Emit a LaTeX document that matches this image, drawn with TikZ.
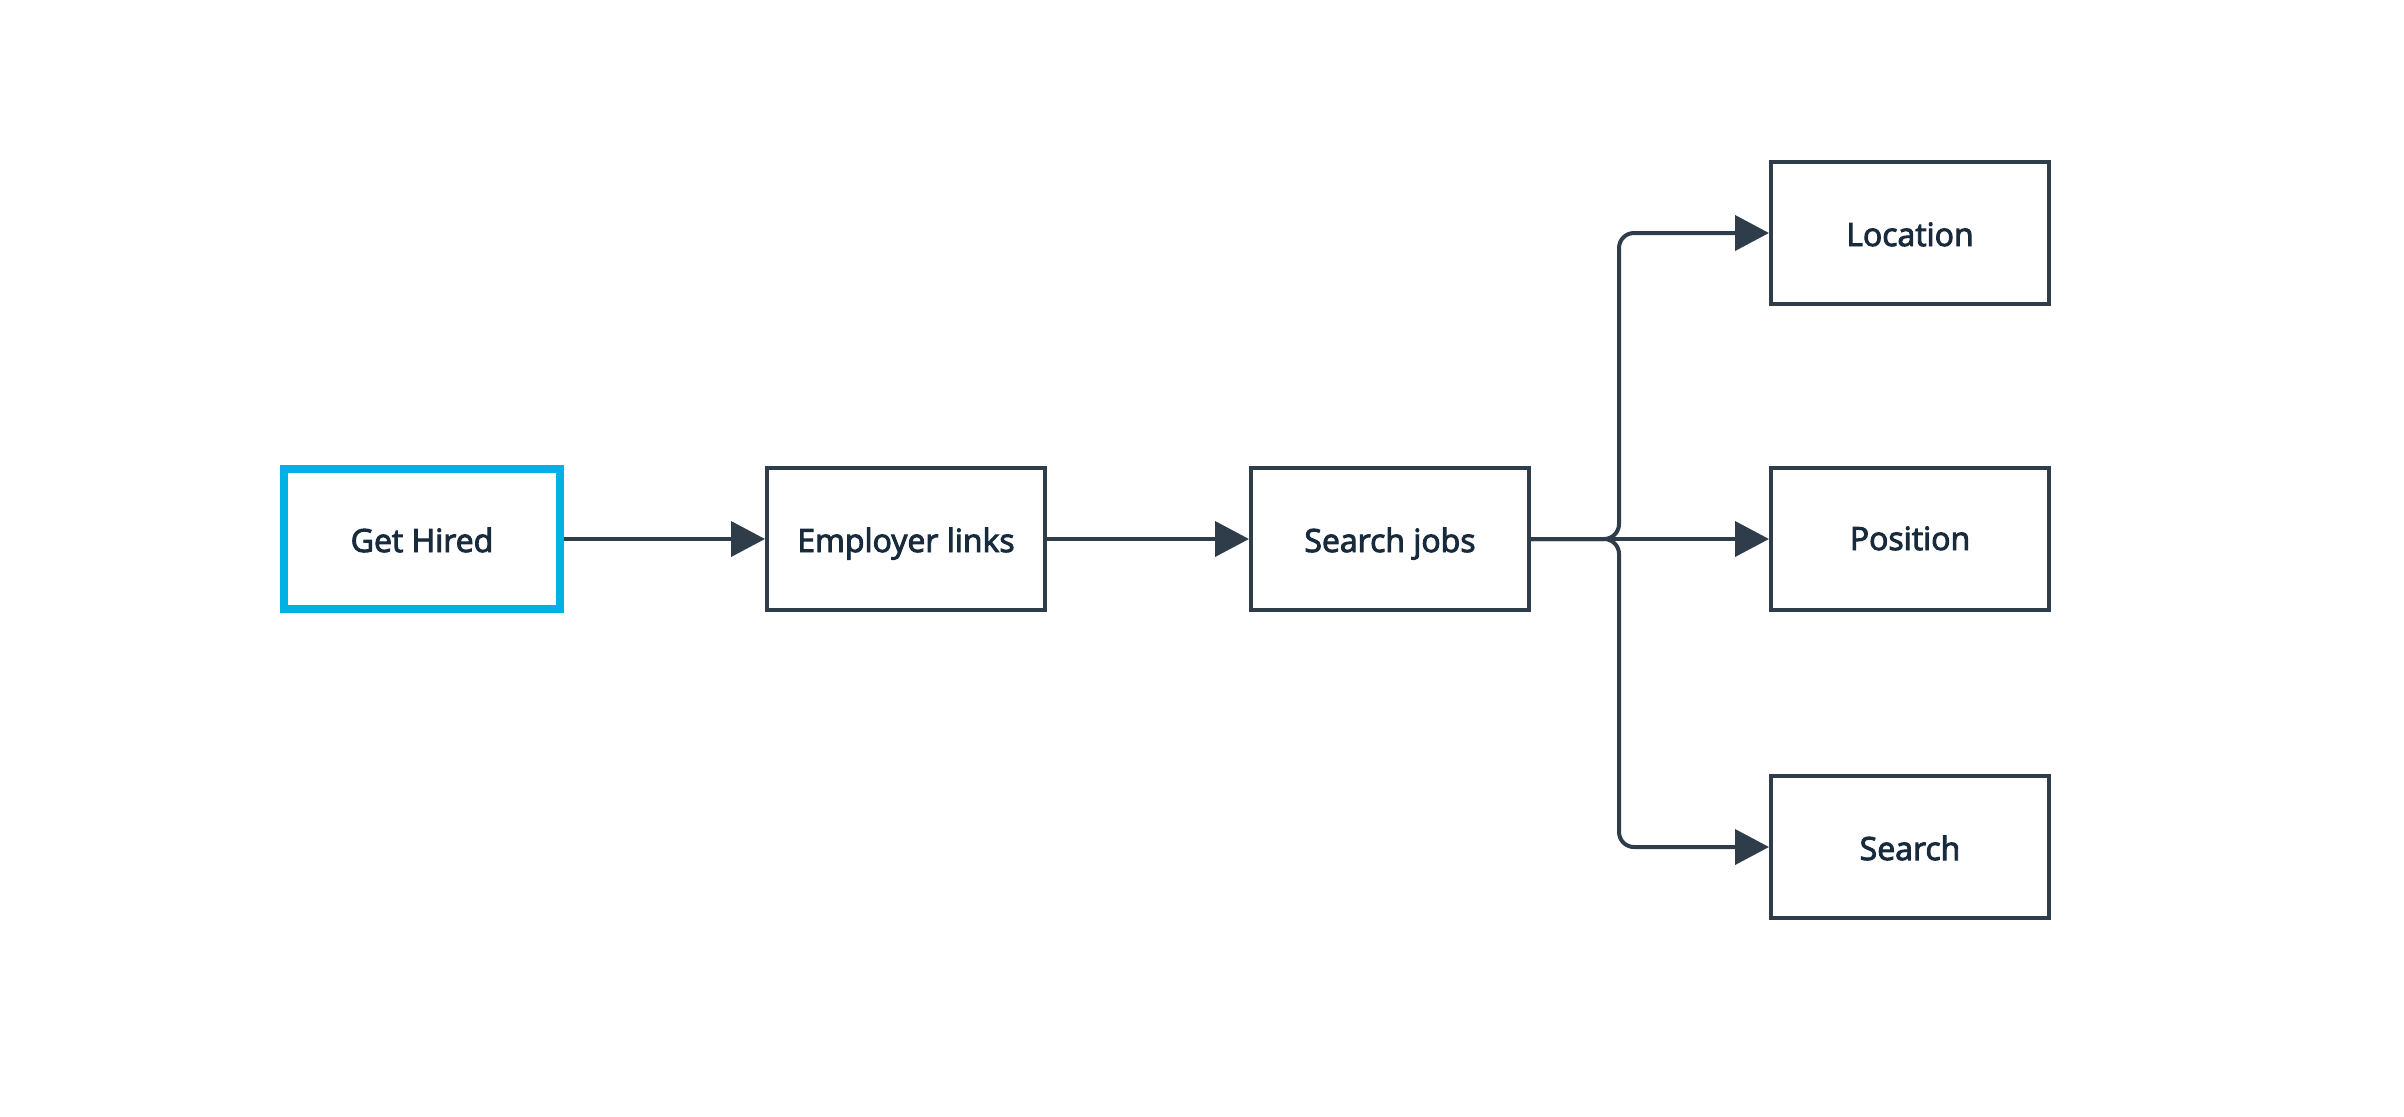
\documentclass[tikz,border=0pt]{standalone}
\usepackage{fontspec}
\setmainfont{Open Sans}
\newfontfamily\semib{Open Sans}[FakeBold=3]
\usetikzlibrary{arrows.meta}
\definecolor{lineC}{HTML}{2F3D4B}
\definecolor{textC}{HTML}{172B3D}
\definecolor{cyanC}{HTML}{00B2E3}
\begin{document}
\begin{tikzpicture}[x=0.5pt,y=-0.5pt,
  box/.style={draw=lineC, line width=2pt, rectangle, minimum width=139pt, minimum height=71pt, text=textC, font=\semib\fontsize{16pt}{19pt}\selectfont, inner sep=0pt, text height=11pt, text depth=0pt},
  startbox/.style={box, draw=cyanC, line width=4pt, minimum width=138pt, minimum height=70pt},
  conn/.style={draw=lineC, line width=2pt, -{Triangle[length=17pt,width=17.5pt]}, rounded corners=7.5pt}
]
\useasboundingbox (0,0) rectangle (2404,1116);
\node[startbox] (gh) at (422,539) {\raisebox{-1pt}{Get Hired}};
\node[box] (el) at (906,539) {\raisebox{-1pt}{Employer links}};
\node[box] (sj) at (1390,539) {\raisebox{-1pt}{Search jobs}};
\node[box] (loc) at (1910,233) {\raisebox{-1pt}{Location}};
\node[box] (pos) at (1910,539) {Position};
\node[box] (sr) at (1910,847) {\raisebox{-1pt}{Search}};
\coordinate (jx) at (1619,539);
\draw[conn] (gh) -- (el);
\draw[conn] (el) -- (sj);
\draw[conn] (sj.east) -- (pos.west);
\draw[conn] (sj.east) -| (jx |- loc.west) -- (loc.west);
\draw[conn] (sj.east) -| (jx |- sr.west) -- (sr.west);
\end{tikzpicture}
\end{document}
